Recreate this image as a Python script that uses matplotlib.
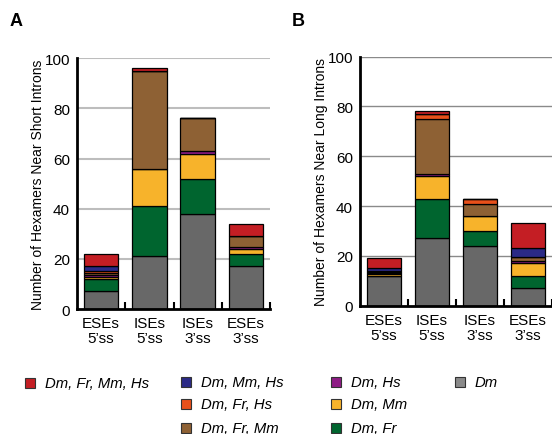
import matplotlib
matplotlib.use("Agg")
import matplotlib.pyplot as plt
import numpy as np
from matplotlib.patches import Rectangle

plt.rcParams['font.family'] = ['Liberation Sans', 'DejaVu Sans']

categories = ['ESEs\n5\u2019ss', 'ISEs\n5\u2019ss', 'ISEs\n3\u2019ss', 'ESEs\n3\u2019ss']
series_names = ['Dm', 'Dm, Fr', 'Dm, Mm', 'Dm, Hs', 'Dm, Fr, Mm', 'Dm, Fr, Hs', 'Dm, Mm, Hs', 'Dm, Fr, Mm, Hs']
series_colors = ['#686868', '#00652f', '#f7b32b', '#8e1c85', '#8e6134', '#e8501a', '#2b2a86', '#c41e24']

# Panel A: short introns (bottom to top order as in series_names)
short_dm        = [7, 21, 38, 17]
short_dm_fr     = [4.8, 20, 14, 5]
short_dm_mm     = [0.9, 15, 10, 2]
short_dm_hs     = [0.9, 0, 1, 0.7]
short_dm_fr_mm  = [0.9, 39, 13, 4.3]
short_dm_fr_hs  = [0.8, 0, 0, 0]
short_dm_mm_hs  = [1.7, 0, 0, 0]
short_all       = [5, 1, 0, 5]

# Panel B: long introns
long_dm        = [12, 27, 24, 7]
long_dm_fr     = [0, 16, 6, 5]
long_dm_mm     = [0.7, 9, 6, 5]
long_dm_hs     = [0.6, 1, 0, 1]
long_dm_fr_mm  = [0.4, 22, 5, 1.5]
long_dm_fr_hs  = [0.3, 2, 1.7, 0]
long_dm_mm_hs  = [1, 0, 0, 3.5]
long_all       = [4, 1, 0.3, 10]

short_series = [short_dm, short_dm_fr, short_dm_mm, short_dm_hs, short_dm_fr_mm,
                short_dm_fr_hs, short_dm_mm_hs, short_all]
long_series = [long_dm, long_dm_fr, long_dm_mm, long_dm_hs, long_dm_fr_mm,
               long_dm_fr_hs, long_dm_mm_hs, long_all]

yticks = [0, 20, 40, 60, 80, 100]

W, H = 552, 435
fig = plt.figure(figsize=(W / 100, H / 100), dpi=100)

def px_axes(x0, y_top, x1, y_bot):
    return [x0 / W, 1 - y_bot / H, (x1 - x0) / W, (y_bot - y_top) / H]

axA = fig.add_axes(px_axes(77, 59.3, 270, 310))
axB = fig.add_axes(px_axes(360, 57.5, 552, 306.7))

def draw_panel(ax, series, ylabel, grid_color, grid_lw):
    x = np.arange(len(categories))
    bottom = np.zeros(len(categories))
    for vals, col in zip(series, series_colors):
        vals = np.array(vals, dtype=float)
        ax.bar(x, vals, width=0.72, bottom=bottom, color=col, edgecolor='black',
               linewidth=0.9, zorder=3)
        bottom += vals
    ax.set_xlim(-0.5, 3.5)
    ax.set_ylim(0, 100)
    ax.set_yticks(yticks)
    ax.set_yticklabels([str(t) for t in yticks], fontsize=11)
    for t in yticks[1:]:
        ax.axhline(t, color=grid_color, lw=grid_lw, zorder=1)
    ax.set_xticks(x)
    ax.set_xticklabels(categories, fontsize=11, linespacing=1.1)
    ax.set_xticks([0.5, 1.5, 2.5, 3.5], minor=True)
    ax.tick_params(axis='x', which='major', length=0, pad=5)
    ax.tick_params(axis='x', which='minor', direction='in', length=5, width=1.5)
    ax.tick_params(axis='y', length=0, pad=5)
    for s in ['top', 'right']:
        ax.spines[s].set_visible(False)
    ax.spines['left'].set_linewidth(2)
    ax.spines['bottom'].set_linewidth(2)
    ax.spines['left'].set_zorder(4)
    ax.spines['bottom'].set_zorder(4)
    ax.set_ylabel(ylabel, fontsize=10, labelpad=0)

draw_panel(axA, short_series, 'Number of Hexamers Near Short Introns', '#bdbdbd', 1.5)
draw_panel(axB, long_series, 'Number of Hexamers Near Long Introns', '#8a8a8a', 1.0)

fig.text(10 / W, 1 - 22 / H, 'A', fontsize=13, fontweight='bold', va='center', ha='left')
fig.text(292 / W, 1 - 22 / H, 'B', fontsize=13, fontweight='bold', va='center', ha='left')

# legend (manual layout)
legend_entries = [
    ('Dm, Fr, Mm, Hs', 7, 25, 384),
    ('Dm, Mm, Hs', 6, 181, 383),
    ('Dm, Fr, Hs', 5, 181, 405),
    ('Dm, Fr, Mm', 4, 181, 429),
    ('Dm, Hs', 3, 331, 383),
    ('Dm, Mm', 2, 331, 405),
    ('Dm, Fr', 1, 331, 429),
    ('Dm', 0, 455, 383),
]
sq = 9.5
for label, idx, xp, yp in legend_entries:
    col = series_colors[idx] if idx != 0 else '#8a8a8a'
    fig.add_artist(Rectangle((xp / W, 1 - (yp + sq / 2) / H), sq / W, sq / H,
                             transform=fig.transFigure, facecolor=col,
                             edgecolor='#333333', linewidth=0.8))
    fig.text((xp + 20) / W, 1 - yp / H, label, fontsize=10.7, style='italic',
             va='center', ha='left')

fig.savefig('out.png', dpi=100)
